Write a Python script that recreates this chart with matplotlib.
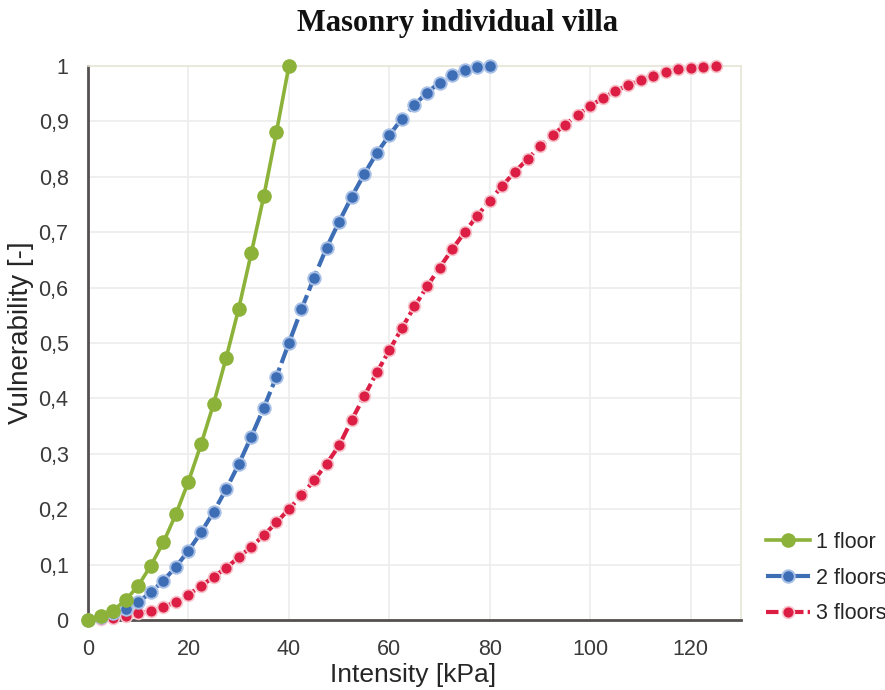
import matplotlib
matplotlib.use("Agg")
import matplotlib.pyplot as plt

# ---- data ----
x_one = [0, 2.5, 5, 7.5, 10, 12.5, 15, 17.5, 20, 22.5, 25, 27.5, 30, 32.5, 35, 37.5, 40]
y_one = [0, 0.007, 0.017, 0.036, 0.062, 0.098, 0.140, 0.191, 0.250, 0.317, 0.390,
         0.473, 0.562, 0.662, 0.765, 0.880, 1.0]

x_two = [0, 2.5, 5, 7.5, 10, 12.5, 15, 17.5, 20, 22.5, 25, 27.5, 30, 32.5, 35, 37.5,
         40, 42.5, 45, 47.5, 50, 52.5, 55, 57.5, 60, 62.5, 65, 67.5, 70, 72.5, 75, 77.5, 80]
y_two = [0, 0.005, 0.012, 0.020, 0.032, 0.050, 0.071, 0.096, 0.125, 0.158, 0.195,
         0.236, 0.281, 0.331, 0.383, 0.439, 0.500, 0.561, 0.618, 0.672, 0.719, 0.764,
         0.805, 0.843, 0.875, 0.905, 0.930, 0.952, 0.970, 0.983, 0.992, 0.999, 1.0]

x_three = [0, 2.5, 5, 7.5, 10, 12.5, 15, 17.5, 20, 22.5, 25, 27.5, 30, 32.5, 35, 37.5,
           40, 42.5, 45, 47.5, 50, 52.5, 55, 57.5, 60, 62.5, 65, 67.5, 70, 72.5, 75, 77.5,
           80, 82.5, 85, 87.5, 90, 92.5, 95, 97.5, 100, 102.5, 105, 107.5, 110, 112.5,
           115, 117.5, 120, 122.5, 125]
y_three = [0, 0.001, 0.003, 0.007, 0.012, 0.016, 0.023, 0.033, 0.046, 0.061, 0.078,
           0.094, 0.113, 0.132, 0.153, 0.176, 0.200, 0.225, 0.252, 0.282, 0.315, 0.361,
           0.404, 0.447, 0.487, 0.527, 0.566, 0.602, 0.636, 0.669, 0.700, 0.730, 0.757,
           0.784, 0.809, 0.832, 0.855, 0.875, 0.894, 0.912, 0.928, 0.942, 0.955, 0.965,
           0.975, 0.982, 0.990, 0.995, 0.997, 0.999, 1.0]

labels = ["1 floor", "2 floors", "3 floors"]
x_ticks = [0, 20, 40, 60, 80, 100, 120]
y_ticks = [0, 0.1, 0.2, 0.3, 0.4, 0.5, 0.6, 0.7, 0.8, 0.9, 1.0]
y_tick_labels = ["0", "0,1", "0,2", "0,3", "0,4", "0,5", "0,6", "0,7", "0,8", "0,9", "1"]

# ---- figure ----
W, H = 885, 690
fig = plt.figure(figsize=(W / 100, H / 100), dpi=100)
fig.patch.set_facecolor("white")
ax = fig.add_axes([88 / W, 70 / H, (741 - 88) / W, (620 - 66) / H])
ax.set_xlim(0, 130)
ax.set_ylim(0, 1)

tick_color = "#3A3A3A"
font = "Liberation Sans"

ax.set_xticks(x_ticks)
ax.set_xticklabels([str(t) for t in x_ticks], fontsize=15.5, family=font, color=tick_color)
ax.set_yticks(y_ticks)
ax.set_yticklabels(y_tick_labels, fontsize=15.5, family=font, color=tick_color)
ax.tick_params(axis="both", length=0)
ax.tick_params(axis="x", pad=14)
ax.tick_params(axis="y", pad=14)

ax.grid(True, color="#ECECEC", linewidth=1.2)
ax.set_axisbelow(True)
for s in ["top", "right"]:
    ax.spines[s].set_color("#E6E6D6")
    ax.spines[s].set_linewidth(1.2)
for s in ["left", "bottom"]:
    ax.spines[s].set_color("#555050")
    ax.spines[s].set_linewidth(2.0)

green = "#8CB23A"
blue = "#3D6DB5"
red = "#DC1E45"

ax.plot(x_three, y_three, color=red, lw=3.0, linestyle=(0, (3, 1, 1, 1)),
        marker="o", markersize=8.5, markerfacecolor=red, markeredgecolor="#F7C4CC",
        markeredgewidth=1.2, clip_on=False, zorder=3, label=labels[2])
ax.plot(x_two, y_two, color=blue, lw=3.0, linestyle=(0, (5, 1.2)),
        marker="o", markersize=9, markerfacecolor=blue, markeredgecolor="#A9C0E6",
        markeredgewidth=1.4, clip_on=False, zorder=4, label=labels[1])
ax.plot(x_one, y_one, color=green, lw=2.6, linestyle="-",
        marker="o", markersize=9.5, markerfacecolor=green, markeredgecolor=green,
        markeredgewidth=1.0, clip_on=False, zorder=5, label=labels[0])

handles, labs = ax.get_legend_handles_labels()
order = [2, 1, 0]
leg = fig.legend([handles[i] for i in order], [labs[i] for i in order],
                 loc="center left", bbox_to_anchor=(766 / W, 1 - 578 / H),
                 frameon=False, prop={"family": font, "size": 15.5},
                 handlelength=2.05, handletextpad=0.25, labelspacing=0.68,
                 borderpad=0, borderaxespad=0)
for t in leg.get_texts():
    t.set_color("#262626")

fig.text(458 / W, 1 - 24 / H, "Masonry individual villa", ha="center", va="center",
         fontsize=22, fontweight="bold", family="Liberation Serif", color="#111111")
fig.text(413 / W, 1 - 675 / H, "Intensity [kPa]", ha="center", va="center",
         fontsize=19, family=font, color="#262626")
fig.text(21 / W, 1 - 333 / H, "Vulnerability [-]", ha="center", va="center",
         rotation=90, fontsize=20, family=font, color="#262626")

fig.savefig("out.png", dpi=100)
